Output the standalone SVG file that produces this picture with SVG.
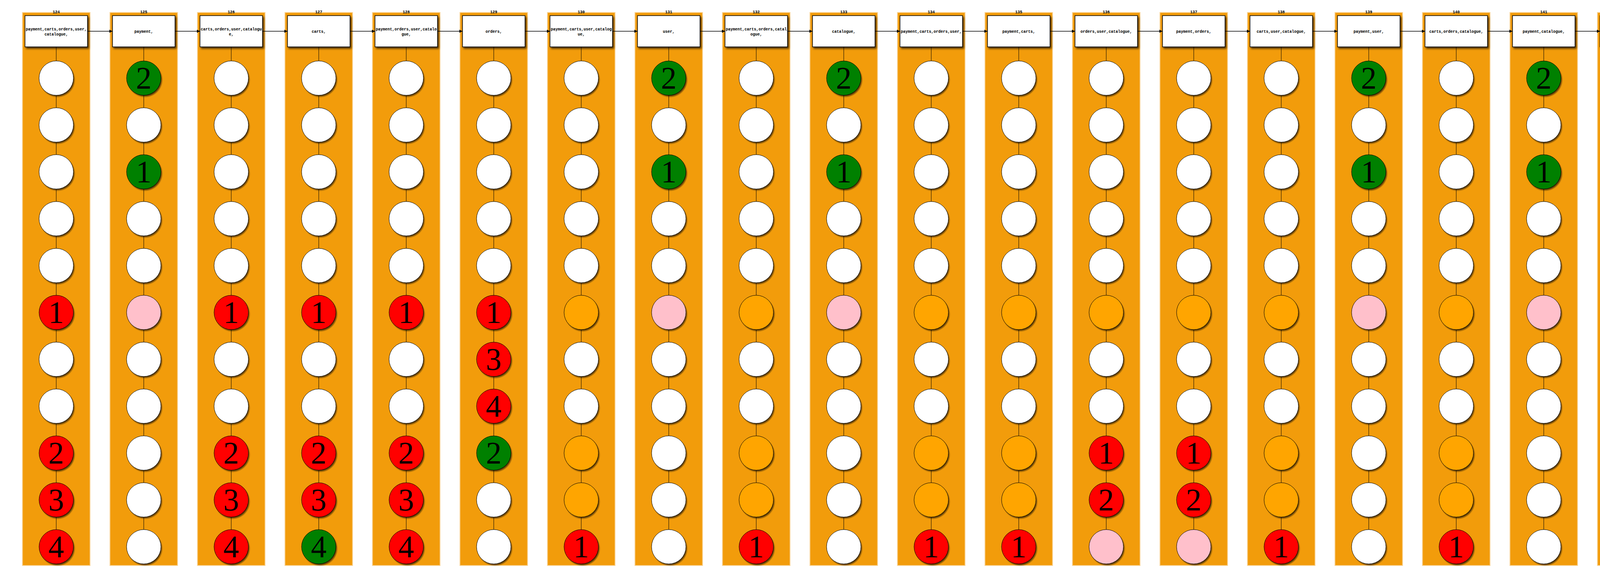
<svg xmlns="http://www.w3.org/2000/svg" width="7008" height="1480" viewBox="0 0 7008 1480">
<defs>
<filter id="shadow" x="-20%" y="-20%" width="150%" height="150%"><feDropShadow dx="3" dy="4" stdDeviation="2.5" flood-color="#000" flood-opacity="0.7"/></filter>
<radialGradient id="shg"><stop offset="0" stop-color="#000" stop-opacity="0.7"/><stop offset="0.88" stop-color="#000" stop-opacity="0.65"/><stop offset="1" stop-color="#000" stop-opacity="0"/></radialGradient>
<marker id="arr" viewBox="0 0 8 8" refX="8" refY="4" markerWidth="8" markerHeight="8" markerUnits="userSpaceOnUse" orient="auto"><path d="M0,0 L8,4 L0,8 z" fill="#000"/></marker>
</defs>
<style>
.bg{fill:#F29C0B;stroke:#F29C0B;stroke-opacity:0.45;stroke-width:4}
.box rect{fill:#fff;stroke:#000;stroke-width:1.5;filter:url(#shadow)}
.sh{fill:url(#shg);stroke:none}
.m{stroke:#000;stroke-width:1}
.w .m{fill:#fff}
.o .m{fill:#FFA500}
.p .m{fill:#FFC0CB}
.r .m{fill:#FF0000}
.g .m{fill:#008000}
.num{font-family:"Liberation Serif",serif;font-size:80px;text-anchor:middle;fill:#000}
.bt,.lbl{font-family:"Liberation Mono",monospace;font-size:10px;font-weight:bold;text-anchor:middle;fill:#000}
.vc{fill:none;stroke:#000;stroke-width:1}
.hc{stroke:#000;stroke-width:1.5;marker-end:url(#arr)}
</style>
<rect width="7008" height="1480" fill="#fff"/>
<g id="backgrounds">
<rect class="bg" x="58.5" y="33" width="171" height="1414"/>
<rect class="bg" x="282.5" y="33" width="171" height="1414"/>
<rect class="bg" x="506.5" y="33" width="171" height="1414"/>
<rect class="bg" x="730.5" y="33" width="171" height="1414"/>
<rect class="bg" x="954.5" y="33" width="171" height="1414"/>
<rect class="bg" x="1178.5" y="33" width="171" height="1414"/>
<rect class="bg" x="1402.5" y="33" width="171" height="1414"/>
<rect class="bg" x="1626.5" y="33" width="171" height="1414"/>
<rect class="bg" x="1850.5" y="33" width="171" height="1414"/>
<rect class="bg" x="2074.5" y="33" width="171" height="1414"/>
<rect class="bg" x="2298.5" y="33" width="171" height="1414"/>
<rect class="bg" x="2522.5" y="33" width="171" height="1414"/>
<rect class="bg" x="2746.5" y="33" width="171" height="1414"/>
<rect class="bg" x="2970.5" y="33" width="171" height="1414"/>
<rect class="bg" x="3194.5" y="33" width="171" height="1414"/>
<rect class="bg" x="3418.5" y="33" width="171" height="1414"/>
<rect class="bg" x="3642.5" y="33" width="171" height="1414"/>
<rect class="bg" x="3866.5" y="33" width="171" height="1414"/>
<rect class="bg" x="4090.5" y="33" width="171" height="1414"/>
<rect class="bg" x="4314.5" y="33" width="171" height="1414"/>
<rect class="bg" x="4538.5" y="33" width="171" height="1414"/>
<rect class="bg" x="4762.5" y="33" width="171" height="1414"/>
<rect class="bg" x="4986.5" y="33" width="171" height="1414"/>
<rect class="bg" x="5210.5" y="33" width="171" height="1414"/>
<rect class="bg" x="5434.5" y="33" width="171" height="1414"/>
<rect class="bg" x="5658.5" y="33" width="171" height="1414"/>
<rect class="bg" x="5882.5" y="33" width="171" height="1414"/>
<rect class="bg" x="6106.5" y="33" width="171" height="1414"/>
<rect class="bg" x="6330.5" y="33" width="171" height="1414"/>
<rect class="bg" x="6554.5" y="33" width="171" height="1414"/>
<rect class="bg" x="6778.5" y="33" width="171" height="1414"/>
</g>
<g id="connectors">
<path class="vc" d="M144 120v36m0 88v32m0 88v32m0 88v32m0 88v32m0 88v32m0 88v32m0 88v32m0 88v32m0 88v32m0 88v32"/>
<path class="vc" d="M368 120v36m0 88v32m0 88v32m0 88v32m0 88v32m0 88v32m0 88v32m0 88v32m0 88v32m0 88v32m0 88v32"/>
<path class="vc" d="M592 120v36m0 88v32m0 88v32m0 88v32m0 88v32m0 88v32m0 88v32m0 88v32m0 88v32m0 88v32m0 88v32"/>
<path class="vc" d="M816 120v36m0 88v32m0 88v32m0 88v32m0 88v32m0 88v32m0 88v32m0 88v32m0 88v32m0 88v32m0 88v32"/>
<path class="vc" d="M1040 120v36m0 88v32m0 88v32m0 88v32m0 88v32m0 88v32m0 88v32m0 88v32m0 88v32m0 88v32m0 88v32"/>
<path class="vc" d="M1264 120v36m0 88v32m0 88v32m0 88v32m0 88v32m0 88v32m0 88v32m0 88v32m0 88v32m0 88v32m0 88v32"/>
<path class="vc" d="M1488 120v36m0 88v32m0 88v32m0 88v32m0 88v32m0 88v32m0 88v32m0 88v32m0 88v32m0 88v32m0 88v32"/>
<path class="vc" d="M1712 120v36m0 88v32m0 88v32m0 88v32m0 88v32m0 88v32m0 88v32m0 88v32m0 88v32m0 88v32m0 88v32"/>
<path class="vc" d="M1936 120v36m0 88v32m0 88v32m0 88v32m0 88v32m0 88v32m0 88v32m0 88v32m0 88v32m0 88v32m0 88v32"/>
<path class="vc" d="M2160 120v36m0 88v32m0 88v32m0 88v32m0 88v32m0 88v32m0 88v32m0 88v32m0 88v32m0 88v32m0 88v32"/>
<path class="vc" d="M2384 120v36m0 88v32m0 88v32m0 88v32m0 88v32m0 88v32m0 88v32m0 88v32m0 88v32m0 88v32m0 88v32"/>
<path class="vc" d="M2608 120v36m0 88v32m0 88v32m0 88v32m0 88v32m0 88v32m0 88v32m0 88v32m0 88v32m0 88v32m0 88v32"/>
<path class="vc" d="M2832 120v36m0 88v32m0 88v32m0 88v32m0 88v32m0 88v32m0 88v32m0 88v32m0 88v32m0 88v32m0 88v32"/>
<path class="vc" d="M3056 120v36m0 88v32m0 88v32m0 88v32m0 88v32m0 88v32m0 88v32m0 88v32m0 88v32m0 88v32m0 88v32"/>
<path class="vc" d="M3280 120v36m0 88v32m0 88v32m0 88v32m0 88v32m0 88v32m0 88v32m0 88v32m0 88v32m0 88v32m0 88v32"/>
<path class="vc" d="M3504 120v36m0 88v32m0 88v32m0 88v32m0 88v32m0 88v32m0 88v32m0 88v32m0 88v32m0 88v32m0 88v32"/>
<path class="vc" d="M3728 120v36m0 88v32m0 88v32m0 88v32m0 88v32m0 88v32m0 88v32m0 88v32m0 88v32m0 88v32m0 88v32"/>
<path class="vc" d="M3952 120v36m0 88v32m0 88v32m0 88v32m0 88v32m0 88v32m0 88v32m0 88v32m0 88v32m0 88v32m0 88v32"/>
<path class="vc" d="M4176 120v36m0 88v32m0 88v32m0 88v32m0 88v32m0 88v32m0 88v32m0 88v32m0 88v32m0 88v32m0 88v32"/>
<path class="vc" d="M4400 120v36m0 88v32m0 88v32m0 88v32m0 88v32m0 88v32m0 88v32m0 88v32m0 88v32m0 88v32m0 88v32"/>
<path class="vc" d="M4624 120v36m0 88v32m0 88v32m0 88v32m0 88v32m0 88v32m0 88v32m0 88v32m0 88v32m0 88v32m0 88v32"/>
<path class="vc" d="M4848 120v36m0 88v32m0 88v32m0 88v32m0 88v32m0 88v32m0 88v32m0 88v32m0 88v32m0 88v32m0 88v32"/>
<path class="vc" d="M5072 120v36m0 88v32m0 88v32m0 88v32m0 88v32m0 88v32m0 88v32m0 88v32m0 88v32m0 88v32m0 88v32"/>
<path class="vc" d="M5296 120v36m0 88v32m0 88v32m0 88v32m0 88v32m0 88v32m0 88v32m0 88v32m0 88v32m0 88v32m0 88v32"/>
<path class="vc" d="M5520 120v36m0 88v32m0 88v32m0 88v32m0 88v32m0 88v32m0 88v32m0 88v32m0 88v32m0 88v32m0 88v32"/>
<path class="vc" d="M5744 120v36m0 88v32m0 88v32m0 88v32m0 88v32m0 88v32m0 88v32m0 88v32m0 88v32m0 88v32m0 88v32"/>
<path class="vc" d="M5968 120v36m0 88v32m0 88v32m0 88v32m0 88v32m0 88v32m0 88v32m0 88v32m0 88v32m0 88v32m0 88v32"/>
<path class="vc" d="M6192 120v36m0 88v32m0 88v32m0 88v32m0 88v32m0 88v32m0 88v32m0 88v32m0 88v32m0 88v32m0 88v32"/>
<path class="vc" d="M6416 120v36m0 88v32m0 88v32m0 88v32m0 88v32m0 88v32m0 88v32m0 88v32m0 88v32m0 88v32m0 88v32"/>
<path class="vc" d="M6640 120v36m0 88v32m0 88v32m0 88v32m0 88v32m0 88v32m0 88v32m0 88v32m0 88v32m0 88v32m0 88v32"/>
<path class="vc" d="M6864 120v36m0 88v32m0 88v32m0 88v32m0 88v32m0 88v32m0 88v32m0 88v32m0 88v32m0 88v32m0 88v32"/>
<line class="hc" x1="224" y1="80" x2="288" y2="80"/>
<line class="hc" x1="448" y1="80" x2="512" y2="80"/>
<line class="hc" x1="672" y1="80" x2="736" y2="80"/>
<line class="hc" x1="896" y1="80" x2="960" y2="80"/>
<line class="hc" x1="1120" y1="80" x2="1184" y2="80"/>
<line class="hc" x1="1344" y1="80" x2="1408" y2="80"/>
<line class="hc" x1="1568" y1="80" x2="1632" y2="80"/>
<line class="hc" x1="1792" y1="80" x2="1856" y2="80"/>
<line class="hc" x1="2016" y1="80" x2="2080" y2="80"/>
<line class="hc" x1="2240" y1="80" x2="2304" y2="80"/>
<line class="hc" x1="2464" y1="80" x2="2528" y2="80"/>
<line class="hc" x1="2688" y1="80" x2="2752" y2="80"/>
<line class="hc" x1="2912" y1="80" x2="2976" y2="80"/>
<line class="hc" x1="3136" y1="80" x2="3200" y2="80"/>
<line class="hc" x1="3360" y1="80" x2="3424" y2="80"/>
<line class="hc" x1="3584" y1="80" x2="3648" y2="80"/>
<line class="hc" x1="3808" y1="80" x2="3872" y2="80"/>
<line class="hc" x1="4032" y1="80" x2="4096" y2="80"/>
<line class="hc" x1="4256" y1="80" x2="4320" y2="80"/>
<line class="hc" x1="4480" y1="80" x2="4544" y2="80"/>
<line class="hc" x1="4704" y1="80" x2="4768" y2="80"/>
<line class="hc" x1="4928" y1="80" x2="4992" y2="80"/>
<line class="hc" x1="5152" y1="80" x2="5216" y2="80"/>
<line class="hc" x1="5376" y1="80" x2="5440" y2="80"/>
<line class="hc" x1="5600" y1="80" x2="5664" y2="80"/>
<line class="hc" x1="5824" y1="80" x2="5888" y2="80"/>
<line class="hc" x1="6048" y1="80" x2="6112" y2="80"/>
<line class="hc" x1="6272" y1="80" x2="6336" y2="80"/>
<line class="hc" x1="6496" y1="80" x2="6560" y2="80"/>
<line class="hc" x1="6720" y1="80" x2="6784" y2="80"/>
</g>

<g id="col124" transform="translate(144,0)">
<text class="lbl" y="34">124</text>
<g id="n124" class="box"><rect x="-80" y="40" width="160" height="80"/><text class="bt"><tspan x="0" y="78">payment,carts,orders,user,</tspan><tspan x="0" y="91">catalogue,</tspan></text></g>
<g id="n124_0" class="w"><circle class="sh" cx="3" cy="204" r="46"/><circle class="m" cy="200" r="44"/></g>
<g id="n124_1" class="w"><circle class="sh" cx="3" cy="324" r="46"/><circle class="m" cy="320" r="44"/></g>
<g id="n124_2" class="w"><circle class="sh" cx="3" cy="444" r="46"/><circle class="m" cy="440" r="44"/></g>
<g id="n124_3" class="w"><circle class="sh" cx="3" cy="564" r="46"/><circle class="m" cy="560" r="44"/></g>
<g id="n124_4" class="w"><circle class="sh" cx="3" cy="684" r="46"/><circle class="m" cy="680" r="44"/></g>
<g id="n124_5" class="r"><circle class="sh" cx="3" cy="804" r="46"/><circle class="m" cy="800" r="44"/><text class="num" y="827">1</text></g>
<g id="n124_6" class="w"><circle class="sh" cx="3" cy="924" r="46"/><circle class="m" cy="920" r="44"/></g>
<g id="n124_7" class="w"><circle class="sh" cx="3" cy="1044" r="46"/><circle class="m" cy="1040" r="44"/></g>
<g id="n124_8" class="r"><circle class="sh" cx="3" cy="1164" r="46"/><circle class="m" cy="1160" r="44"/><text class="num" y="1187">2</text></g>
<g id="n124_9" class="r"><circle class="sh" cx="3" cy="1284" r="46"/><circle class="m" cy="1280" r="44"/><text class="num" y="1307">3</text></g>
<g id="n124_10" class="r"><circle class="sh" cx="3" cy="1404" r="46"/><circle class="m" cy="1400" r="44"/><text class="num" y="1427">4</text></g>
</g>

<g id="col125" transform="translate(368,0)">
<text class="lbl" y="34">125</text>
<g id="n125" class="box"><rect x="-80" y="40" width="160" height="80"/><text class="bt" x="0" y="84">payment,</text></g>
<g id="n125_0" class="g"><circle class="sh" cx="3" cy="204" r="46"/><circle class="m" cy="200" r="44"/><text class="num" y="227">2</text></g>
<g id="n125_1" class="w"><circle class="sh" cx="3" cy="324" r="46"/><circle class="m" cy="320" r="44"/></g>
<g id="n125_2" class="g"><circle class="sh" cx="3" cy="444" r="46"/><circle class="m" cy="440" r="44"/><text class="num" y="467">1</text></g>
<g id="n125_3" class="w"><circle class="sh" cx="3" cy="564" r="46"/><circle class="m" cy="560" r="44"/></g>
<g id="n125_4" class="w"><circle class="sh" cx="3" cy="684" r="46"/><circle class="m" cy="680" r="44"/></g>
<g id="n125_5" class="p"><circle class="sh" cx="3" cy="804" r="46"/><circle class="m" cy="800" r="44"/></g>
<g id="n125_6" class="w"><circle class="sh" cx="3" cy="924" r="46"/><circle class="m" cy="920" r="44"/></g>
<g id="n125_7" class="w"><circle class="sh" cx="3" cy="1044" r="46"/><circle class="m" cy="1040" r="44"/></g>
<g id="n125_8" class="w"><circle class="sh" cx="3" cy="1164" r="46"/><circle class="m" cy="1160" r="44"/></g>
<g id="n125_9" class="w"><circle class="sh" cx="3" cy="1284" r="46"/><circle class="m" cy="1280" r="44"/></g>
<g id="n125_10" class="w"><circle class="sh" cx="3" cy="1404" r="46"/><circle class="m" cy="1400" r="44"/></g>
</g>

<g id="col126" transform="translate(592,0)">
<text class="lbl" y="34">126</text>
<g id="n126" class="box"><rect x="-80" y="40" width="160" height="80"/><text class="bt"><tspan x="0" y="78">carts,orders,user,catalogu</tspan><tspan x="0" y="91">e,</tspan></text></g>
<g id="n126_0" class="w"><circle class="sh" cx="3" cy="204" r="46"/><circle class="m" cy="200" r="44"/></g>
<g id="n126_1" class="w"><circle class="sh" cx="3" cy="324" r="46"/><circle class="m" cy="320" r="44"/></g>
<g id="n126_2" class="w"><circle class="sh" cx="3" cy="444" r="46"/><circle class="m" cy="440" r="44"/></g>
<g id="n126_3" class="w"><circle class="sh" cx="3" cy="564" r="46"/><circle class="m" cy="560" r="44"/></g>
<g id="n126_4" class="w"><circle class="sh" cx="3" cy="684" r="46"/><circle class="m" cy="680" r="44"/></g>
<g id="n126_5" class="r"><circle class="sh" cx="3" cy="804" r="46"/><circle class="m" cy="800" r="44"/><text class="num" y="827">1</text></g>
<g id="n126_6" class="w"><circle class="sh" cx="3" cy="924" r="46"/><circle class="m" cy="920" r="44"/></g>
<g id="n126_7" class="w"><circle class="sh" cx="3" cy="1044" r="46"/><circle class="m" cy="1040" r="44"/></g>
<g id="n126_8" class="r"><circle class="sh" cx="3" cy="1164" r="46"/><circle class="m" cy="1160" r="44"/><text class="num" y="1187">2</text></g>
<g id="n126_9" class="r"><circle class="sh" cx="3" cy="1284" r="46"/><circle class="m" cy="1280" r="44"/><text class="num" y="1307">3</text></g>
<g id="n126_10" class="r"><circle class="sh" cx="3" cy="1404" r="46"/><circle class="m" cy="1400" r="44"/><text class="num" y="1427">4</text></g>
</g>

<g id="col127" transform="translate(816,0)">
<text class="lbl" y="34">127</text>
<g id="n127" class="box"><rect x="-80" y="40" width="160" height="80"/><text class="bt" x="0" y="84">carts,</text></g>
<g id="n127_0" class="w"><circle class="sh" cx="3" cy="204" r="46"/><circle class="m" cy="200" r="44"/></g>
<g id="n127_1" class="w"><circle class="sh" cx="3" cy="324" r="46"/><circle class="m" cy="320" r="44"/></g>
<g id="n127_2" class="w"><circle class="sh" cx="3" cy="444" r="46"/><circle class="m" cy="440" r="44"/></g>
<g id="n127_3" class="w"><circle class="sh" cx="3" cy="564" r="46"/><circle class="m" cy="560" r="44"/></g>
<g id="n127_4" class="w"><circle class="sh" cx="3" cy="684" r="46"/><circle class="m" cy="680" r="44"/></g>
<g id="n127_5" class="r"><circle class="sh" cx="3" cy="804" r="46"/><circle class="m" cy="800" r="44"/><text class="num" y="827">1</text></g>
<g id="n127_6" class="w"><circle class="sh" cx="3" cy="924" r="46"/><circle class="m" cy="920" r="44"/></g>
<g id="n127_7" class="w"><circle class="sh" cx="3" cy="1044" r="46"/><circle class="m" cy="1040" r="44"/></g>
<g id="n127_8" class="r"><circle class="sh" cx="3" cy="1164" r="46"/><circle class="m" cy="1160" r="44"/><text class="num" y="1187">2</text></g>
<g id="n127_9" class="r"><circle class="sh" cx="3" cy="1284" r="46"/><circle class="m" cy="1280" r="44"/><text class="num" y="1307">3</text></g>
<g id="n127_10" class="g"><circle class="sh" cx="3" cy="1404" r="46"/><circle class="m" cy="1400" r="44"/><text class="num" y="1427">4</text></g>
</g>

<g id="col128" transform="translate(1040,0)">
<text class="lbl" y="34">128</text>
<g id="n128" class="box"><rect x="-80" y="40" width="160" height="80"/><text class="bt"><tspan x="0" y="78">payment,orders,user,catalo</tspan><tspan x="0" y="91">gue,</tspan></text></g>
<g id="n128_0" class="w"><circle class="sh" cx="3" cy="204" r="46"/><circle class="m" cy="200" r="44"/></g>
<g id="n128_1" class="w"><circle class="sh" cx="3" cy="324" r="46"/><circle class="m" cy="320" r="44"/></g>
<g id="n128_2" class="w"><circle class="sh" cx="3" cy="444" r="46"/><circle class="m" cy="440" r="44"/></g>
<g id="n128_3" class="w"><circle class="sh" cx="3" cy="564" r="46"/><circle class="m" cy="560" r="44"/></g>
<g id="n128_4" class="w"><circle class="sh" cx="3" cy="684" r="46"/><circle class="m" cy="680" r="44"/></g>
<g id="n128_5" class="r"><circle class="sh" cx="3" cy="804" r="46"/><circle class="m" cy="800" r="44"/><text class="num" y="827">1</text></g>
<g id="n128_6" class="w"><circle class="sh" cx="3" cy="924" r="46"/><circle class="m" cy="920" r="44"/></g>
<g id="n128_7" class="w"><circle class="sh" cx="3" cy="1044" r="46"/><circle class="m" cy="1040" r="44"/></g>
<g id="n128_8" class="r"><circle class="sh" cx="3" cy="1164" r="46"/><circle class="m" cy="1160" r="44"/><text class="num" y="1187">2</text></g>
<g id="n128_9" class="r"><circle class="sh" cx="3" cy="1284" r="46"/><circle class="m" cy="1280" r="44"/><text class="num" y="1307">3</text></g>
<g id="n128_10" class="r"><circle class="sh" cx="3" cy="1404" r="46"/><circle class="m" cy="1400" r="44"/><text class="num" y="1427">4</text></g>
</g>

<g id="col129" transform="translate(1264,0)">
<text class="lbl" y="34">129</text>
<g id="n129" class="box"><rect x="-80" y="40" width="160" height="80"/><text class="bt" x="0" y="84">orders,</text></g>
<g id="n129_0" class="w"><circle class="sh" cx="3" cy="204" r="46"/><circle class="m" cy="200" r="44"/></g>
<g id="n129_1" class="w"><circle class="sh" cx="3" cy="324" r="46"/><circle class="m" cy="320" r="44"/></g>
<g id="n129_2" class="w"><circle class="sh" cx="3" cy="444" r="46"/><circle class="m" cy="440" r="44"/></g>
<g id="n129_3" class="w"><circle class="sh" cx="3" cy="564" r="46"/><circle class="m" cy="560" r="44"/></g>
<g id="n129_4" class="w"><circle class="sh" cx="3" cy="684" r="46"/><circle class="m" cy="680" r="44"/></g>
<g id="n129_5" class="r"><circle class="sh" cx="3" cy="804" r="46"/><circle class="m" cy="800" r="44"/><text class="num" y="827">1</text></g>
<g id="n129_6" class="r"><circle class="sh" cx="3" cy="924" r="46"/><circle class="m" cy="920" r="44"/><text class="num" y="947">3</text></g>
<g id="n129_7" class="r"><circle class="sh" cx="3" cy="1044" r="46"/><circle class="m" cy="1040" r="44"/><text class="num" y="1067">4</text></g>
<g id="n129_8" class="g"><circle class="sh" cx="3" cy="1164" r="46"/><circle class="m" cy="1160" r="44"/><text class="num" y="1187">2</text></g>
<g id="n129_9" class="w"><circle class="sh" cx="3" cy="1284" r="46"/><circle class="m" cy="1280" r="44"/></g>
<g id="n129_10" class="w"><circle class="sh" cx="3" cy="1404" r="46"/><circle class="m" cy="1400" r="44"/></g>
</g>

<g id="col130" transform="translate(1488,0)">
<text class="lbl" y="34">130</text>
<g id="n130" class="box"><rect x="-80" y="40" width="160" height="80"/><text class="bt"><tspan x="0" y="78">payment,carts,user,catalog</tspan><tspan x="0" y="91">ue,</tspan></text></g>
<g id="n130_0" class="w"><circle class="sh" cx="3" cy="204" r="46"/><circle class="m" cy="200" r="44"/></g>
<g id="n130_1" class="w"><circle class="sh" cx="3" cy="324" r="46"/><circle class="m" cy="320" r="44"/></g>
<g id="n130_2" class="w"><circle class="sh" cx="3" cy="444" r="46"/><circle class="m" cy="440" r="44"/></g>
<g id="n130_3" class="w"><circle class="sh" cx="3" cy="564" r="46"/><circle class="m" cy="560" r="44"/></g>
<g id="n130_4" class="w"><circle class="sh" cx="3" cy="684" r="46"/><circle class="m" cy="680" r="44"/></g>
<g id="n130_5" class="o"><circle class="sh" cx="3" cy="804" r="46"/><circle class="m" cy="800" r="44"/></g>
<g id="n130_6" class="w"><circle class="sh" cx="3" cy="924" r="46"/><circle class="m" cy="920" r="44"/></g>
<g id="n130_7" class="w"><circle class="sh" cx="3" cy="1044" r="46"/><circle class="m" cy="1040" r="44"/></g>
<g id="n130_8" class="o"><circle class="sh" cx="3" cy="1164" r="46"/><circle class="m" cy="1160" r="44"/></g>
<g id="n130_9" class="o"><circle class="sh" cx="3" cy="1284" r="46"/><circle class="m" cy="1280" r="44"/></g>
<g id="n130_10" class="r"><circle class="sh" cx="3" cy="1404" r="46"/><circle class="m" cy="1400" r="44"/><text class="num" y="1427">1</text></g>
</g>

<g id="col131" transform="translate(1712,0)">
<text class="lbl" y="34">131</text>
<g id="n131" class="box"><rect x="-80" y="40" width="160" height="80"/><text class="bt" x="0" y="84">user,</text></g>
<g id="n131_0" class="g"><circle class="sh" cx="3" cy="204" r="46"/><circle class="m" cy="200" r="44"/><text class="num" y="227">2</text></g>
<g id="n131_1" class="w"><circle class="sh" cx="3" cy="324" r="46"/><circle class="m" cy="320" r="44"/></g>
<g id="n131_2" class="g"><circle class="sh" cx="3" cy="444" r="46"/><circle class="m" cy="440" r="44"/><text class="num" y="467">1</text></g>
<g id="n131_3" class="w"><circle class="sh" cx="3" cy="564" r="46"/><circle class="m" cy="560" r="44"/></g>
<g id="n131_4" class="w"><circle class="sh" cx="3" cy="684" r="46"/><circle class="m" cy="680" r="44"/></g>
<g id="n131_5" class="p"><circle class="sh" cx="3" cy="804" r="46"/><circle class="m" cy="800" r="44"/></g>
<g id="n131_6" class="w"><circle class="sh" cx="3" cy="924" r="46"/><circle class="m" cy="920" r="44"/></g>
<g id="n131_7" class="w"><circle class="sh" cx="3" cy="1044" r="46"/><circle class="m" cy="1040" r="44"/></g>
<g id="n131_8" class="w"><circle class="sh" cx="3" cy="1164" r="46"/><circle class="m" cy="1160" r="44"/></g>
<g id="n131_9" class="w"><circle class="sh" cx="3" cy="1284" r="46"/><circle class="m" cy="1280" r="44"/></g>
<g id="n131_10" class="w"><circle class="sh" cx="3" cy="1404" r="46"/><circle class="m" cy="1400" r="44"/></g>
</g>

<g id="col132" transform="translate(1936,0)">
<text class="lbl" y="34">132</text>
<g id="n132" class="box"><rect x="-80" y="40" width="160" height="80"/><text class="bt"><tspan x="0" y="78">payment,carts,orders,catal</tspan><tspan x="0" y="91">ogue,</tspan></text></g>
<g id="n132_0" class="w"><circle class="sh" cx="3" cy="204" r="46"/><circle class="m" cy="200" r="44"/></g>
<g id="n132_1" class="w"><circle class="sh" cx="3" cy="324" r="46"/><circle class="m" cy="320" r="44"/></g>
<g id="n132_2" class="w"><circle class="sh" cx="3" cy="444" r="46"/><circle class="m" cy="440" r="44"/></g>
<g id="n132_3" class="w"><circle class="sh" cx="3" cy="564" r="46"/><circle class="m" cy="560" r="44"/></g>
<g id="n132_4" class="w"><circle class="sh" cx="3" cy="684" r="46"/><circle class="m" cy="680" r="44"/></g>
<g id="n132_5" class="o"><circle class="sh" cx="3" cy="804" r="46"/><circle class="m" cy="800" r="44"/></g>
<g id="n132_6" class="w"><circle class="sh" cx="3" cy="924" r="46"/><circle class="m" cy="920" r="44"/></g>
<g id="n132_7" class="w"><circle class="sh" cx="3" cy="1044" r="46"/><circle class="m" cy="1040" r="44"/></g>
<g id="n132_8" class="o"><circle class="sh" cx="3" cy="1164" r="46"/><circle class="m" cy="1160" r="44"/></g>
<g id="n132_9" class="o"><circle class="sh" cx="3" cy="1284" r="46"/><circle class="m" cy="1280" r="44"/></g>
<g id="n132_10" class="r"><circle class="sh" cx="3" cy="1404" r="46"/><circle class="m" cy="1400" r="44"/><text class="num" y="1427">1</text></g>
</g>

<g id="col133" transform="translate(2160,0)">
<text class="lbl" y="34">133</text>
<g id="n133" class="box"><rect x="-80" y="40" width="160" height="80"/><text class="bt" x="0" y="84">catalogue,</text></g>
<g id="n133_0" class="g"><circle class="sh" cx="3" cy="204" r="46"/><circle class="m" cy="200" r="44"/><text class="num" y="227">2</text></g>
<g id="n133_1" class="w"><circle class="sh" cx="3" cy="324" r="46"/><circle class="m" cy="320" r="44"/></g>
<g id="n133_2" class="g"><circle class="sh" cx="3" cy="444" r="46"/><circle class="m" cy="440" r="44"/><text class="num" y="467">1</text></g>
<g id="n133_3" class="w"><circle class="sh" cx="3" cy="564" r="46"/><circle class="m" cy="560" r="44"/></g>
<g id="n133_4" class="w"><circle class="sh" cx="3" cy="684" r="46"/><circle class="m" cy="680" r="44"/></g>
<g id="n133_5" class="p"><circle class="sh" cx="3" cy="804" r="46"/><circle class="m" cy="800" r="44"/></g>
<g id="n133_6" class="w"><circle class="sh" cx="3" cy="924" r="46"/><circle class="m" cy="920" r="44"/></g>
<g id="n133_7" class="w"><circle class="sh" cx="3" cy="1044" r="46"/><circle class="m" cy="1040" r="44"/></g>
<g id="n133_8" class="w"><circle class="sh" cx="3" cy="1164" r="46"/><circle class="m" cy="1160" r="44"/></g>
<g id="n133_9" class="w"><circle class="sh" cx="3" cy="1284" r="46"/><circle class="m" cy="1280" r="44"/></g>
<g id="n133_10" class="w"><circle class="sh" cx="3" cy="1404" r="46"/><circle class="m" cy="1400" r="44"/></g>
</g>

<g id="col134" transform="translate(2384,0)">
<text class="lbl" y="34">134</text>
<g id="n134" class="box"><rect x="-80" y="40" width="160" height="80"/><text class="bt" x="0" y="84">payment,carts,orders,user,</text></g>
<g id="n134_0" class="w"><circle class="sh" cx="3" cy="204" r="46"/><circle class="m" cy="200" r="44"/></g>
<g id="n134_1" class="w"><circle class="sh" cx="3" cy="324" r="46"/><circle class="m" cy="320" r="44"/></g>
<g id="n134_2" class="w"><circle class="sh" cx="3" cy="444" r="46"/><circle class="m" cy="440" r="44"/></g>
<g id="n134_3" class="w"><circle class="sh" cx="3" cy="564" r="46"/><circle class="m" cy="560" r="44"/></g>
<g id="n134_4" class="w"><circle class="sh" cx="3" cy="684" r="46"/><circle class="m" cy="680" r="44"/></g>
<g id="n134_5" class="o"><circle class="sh" cx="3" cy="804" r="46"/><circle class="m" cy="800" r="44"/></g>
<g id="n134_6" class="w"><circle class="sh" cx="3" cy="924" r="46"/><circle class="m" cy="920" r="44"/></g>
<g id="n134_7" class="w"><circle class="sh" cx="3" cy="1044" r="46"/><circle class="m" cy="1040" r="44"/></g>
<g id="n134_8" class="o"><circle class="sh" cx="3" cy="1164" r="46"/><circle class="m" cy="1160" r="44"/></g>
<g id="n134_9" class="o"><circle class="sh" cx="3" cy="1284" r="46"/><circle class="m" cy="1280" r="44"/></g>
<g id="n134_10" class="r"><circle class="sh" cx="3" cy="1404" r="46"/><circle class="m" cy="1400" r="44"/><text class="num" y="1427">1</text></g>
</g>

<g id="col135" transform="translate(2608,0)">
<text class="lbl" y="34">135</text>
<g id="n135" class="box"><rect x="-80" y="40" width="160" height="80"/><text class="bt" x="0" y="84">payment,carts,</text></g>
<g id="n135_0" class="w"><circle class="sh" cx="3" cy="204" r="46"/><circle class="m" cy="200" r="44"/></g>
<g id="n135_1" class="w"><circle class="sh" cx="3" cy="324" r="46"/><circle class="m" cy="320" r="44"/></g>
<g id="n135_2" class="w"><circle class="sh" cx="3" cy="444" r="46"/><circle class="m" cy="440" r="44"/></g>
<g id="n135_3" class="w"><circle class="sh" cx="3" cy="564" r="46"/><circle class="m" cy="560" r="44"/></g>
<g id="n135_4" class="w"><circle class="sh" cx="3" cy="684" r="46"/><circle class="m" cy="680" r="44"/></g>
<g id="n135_5" class="o"><circle class="sh" cx="3" cy="804" r="46"/><circle class="m" cy="800" r="44"/></g>
<g id="n135_6" class="w"><circle class="sh" cx="3" cy="924" r="46"/><circle class="m" cy="920" r="44"/></g>
<g id="n135_7" class="w"><circle class="sh" cx="3" cy="1044" r="46"/><circle class="m" cy="1040" r="44"/></g>
<g id="n135_8" class="o"><circle class="sh" cx="3" cy="1164" r="46"/><circle class="m" cy="1160" r="44"/></g>
<g id="n135_9" class="o"><circle class="sh" cx="3" cy="1284" r="46"/><circle class="m" cy="1280" r="44"/></g>
<g id="n135_10" class="r"><circle class="sh" cx="3" cy="1404" r="46"/><circle class="m" cy="1400" r="44"/><text class="num" y="1427">1</text></g>
</g>

<g id="col136" transform="translate(2832,0)">
<text class="lbl" y="34">136</text>
<g id="n136" class="box"><rect x="-80" y="40" width="160" height="80"/><text class="bt" x="0" y="84">orders,user,catalogue,</text></g>
<g id="n136_0" class="w"><circle class="sh" cx="3" cy="204" r="46"/><circle class="m" cy="200" r="44"/></g>
<g id="n136_1" class="w"><circle class="sh" cx="3" cy="324" r="46"/><circle class="m" cy="320" r="44"/></g>
<g id="n136_2" class="w"><circle class="sh" cx="3" cy="444" r="46"/><circle class="m" cy="440" r="44"/></g>
<g id="n136_3" class="w"><circle class="sh" cx="3" cy="564" r="46"/><circle class="m" cy="560" r="44"/></g>
<g id="n136_4" class="w"><circle class="sh" cx="3" cy="684" r="46"/><circle class="m" cy="680" r="44"/></g>
<g id="n136_5" class="o"><circle class="sh" cx="3" cy="804" r="46"/><circle class="m" cy="800" r="44"/></g>
<g id="n136_6" class="w"><circle class="sh" cx="3" cy="924" r="46"/><circle class="m" cy="920" r="44"/></g>
<g id="n136_7" class="w"><circle class="sh" cx="3" cy="1044" r="46"/><circle class="m" cy="1040" r="44"/></g>
<g id="n136_8" class="r"><circle class="sh" cx="3" cy="1164" r="46"/><circle class="m" cy="1160" r="44"/><text class="num" y="1187">1</text></g>
<g id="n136_9" class="r"><circle class="sh" cx="3" cy="1284" r="46"/><circle class="m" cy="1280" r="44"/><text class="num" y="1307">2</text></g>
<g id="n136_10" class="p"><circle class="sh" cx="3" cy="1404" r="46"/><circle class="m" cy="1400" r="44"/></g>
</g>

<g id="col137" transform="translate(3056,0)">
<text class="lbl" y="34">137</text>
<g id="n137" class="box"><rect x="-80" y="40" width="160" height="80"/><text class="bt" x="0" y="84">payment,orders,</text></g>
<g id="n137_0" class="w"><circle class="sh" cx="3" cy="204" r="46"/><circle class="m" cy="200" r="44"/></g>
<g id="n137_1" class="w"><circle class="sh" cx="3" cy="324" r="46"/><circle class="m" cy="320" r="44"/></g>
<g id="n137_2" class="w"><circle class="sh" cx="3" cy="444" r="46"/><circle class="m" cy="440" r="44"/></g>
<g id="n137_3" class="w"><circle class="sh" cx="3" cy="564" r="46"/><circle class="m" cy="560" r="44"/></g>
<g id="n137_4" class="w"><circle class="sh" cx="3" cy="684" r="46"/><circle class="m" cy="680" r="44"/></g>
<g id="n137_5" class="o"><circle class="sh" cx="3" cy="804" r="46"/><circle class="m" cy="800" r="44"/></g>
<g id="n137_6" class="w"><circle class="sh" cx="3" cy="924" r="46"/><circle class="m" cy="920" r="44"/></g>
<g id="n137_7" class="w"><circle class="sh" cx="3" cy="1044" r="46"/><circle class="m" cy="1040" r="44"/></g>
<g id="n137_8" class="r"><circle class="sh" cx="3" cy="1164" r="46"/><circle class="m" cy="1160" r="44"/><text class="num" y="1187">1</text></g>
<g id="n137_9" class="r"><circle class="sh" cx="3" cy="1284" r="46"/><circle class="m" cy="1280" r="44"/><text class="num" y="1307">2</text></g>
<g id="n137_10" class="p"><circle class="sh" cx="3" cy="1404" r="46"/><circle class="m" cy="1400" r="44"/></g>
</g>

<g id="col138" transform="translate(3280,0)">
<text class="lbl" y="34">138</text>
<g id="n138" class="box"><rect x="-80" y="40" width="160" height="80"/><text class="bt" x="0" y="84">carts,user,catalogue,</text></g>
<g id="n138_0" class="w"><circle class="sh" cx="3" cy="204" r="46"/><circle class="m" cy="200" r="44"/></g>
<g id="n138_1" class="w"><circle class="sh" cx="3" cy="324" r="46"/><circle class="m" cy="320" r="44"/></g>
<g id="n138_2" class="w"><circle class="sh" cx="3" cy="444" r="46"/><circle class="m" cy="440" r="44"/></g>
<g id="n138_3" class="w"><circle class="sh" cx="3" cy="564" r="46"/><circle class="m" cy="560" r="44"/></g>
<g id="n138_4" class="w"><circle class="sh" cx="3" cy="684" r="46"/><circle class="m" cy="680" r="44"/></g>
<g id="n138_5" class="o"><circle class="sh" cx="3" cy="804" r="46"/><circle class="m" cy="800" r="44"/></g>
<g id="n138_6" class="w"><circle class="sh" cx="3" cy="924" r="46"/><circle class="m" cy="920" r="44"/></g>
<g id="n138_7" class="w"><circle class="sh" cx="3" cy="1044" r="46"/><circle class="m" cy="1040" r="44"/></g>
<g id="n138_8" class="o"><circle class="sh" cx="3" cy="1164" r="46"/><circle class="m" cy="1160" r="44"/></g>
<g id="n138_9" class="o"><circle class="sh" cx="3" cy="1284" r="46"/><circle class="m" cy="1280" r="44"/></g>
<g id="n138_10" class="r"><circle class="sh" cx="3" cy="1404" r="46"/><circle class="m" cy="1400" r="44"/><text class="num" y="1427">1</text></g>
</g>

<g id="col139" transform="translate(3504,0)">
<text class="lbl" y="34">139</text>
<g id="n139" class="box"><rect x="-80" y="40" width="160" height="80"/><text class="bt" x="0" y="84">payment,user,</text></g>
<g id="n139_0" class="g"><circle class="sh" cx="3" cy="204" r="46"/><circle class="m" cy="200" r="44"/><text class="num" y="227">2</text></g>
<g id="n139_1" class="w"><circle class="sh" cx="3" cy="324" r="46"/><circle class="m" cy="320" r="44"/></g>
<g id="n139_2" class="g"><circle class="sh" cx="3" cy="444" r="46"/><circle class="m" cy="440" r="44"/><text class="num" y="467">1</text></g>
<g id="n139_3" class="w"><circle class="sh" cx="3" cy="564" r="46"/><circle class="m" cy="560" r="44"/></g>
<g id="n139_4" class="w"><circle class="sh" cx="3" cy="684" r="46"/><circle class="m" cy="680" r="44"/></g>
<g id="n139_5" class="p"><circle class="sh" cx="3" cy="804" r="46"/><circle class="m" cy="800" r="44"/></g>
<g id="n139_6" class="w"><circle class="sh" cx="3" cy="924" r="46"/><circle class="m" cy="920" r="44"/></g>
<g id="n139_7" class="w"><circle class="sh" cx="3" cy="1044" r="46"/><circle class="m" cy="1040" r="44"/></g>
<g id="n139_8" class="w"><circle class="sh" cx="3" cy="1164" r="46"/><circle class="m" cy="1160" r="44"/></g>
<g id="n139_9" class="w"><circle class="sh" cx="3" cy="1284" r="46"/><circle class="m" cy="1280" r="44"/></g>
<g id="n139_10" class="w"><circle class="sh" cx="3" cy="1404" r="46"/><circle class="m" cy="1400" r="44"/></g>
</g>

<g id="col140" transform="translate(3728,0)">
<text class="lbl" y="34">140</text>
<g id="n140" class="box"><rect x="-80" y="40" width="160" height="80"/><text class="bt" x="0" y="84">carts,orders,catalogue,</text></g>
<g id="n140_0" class="w"><circle class="sh" cx="3" cy="204" r="46"/><circle class="m" cy="200" r="44"/></g>
<g id="n140_1" class="w"><circle class="sh" cx="3" cy="324" r="46"/><circle class="m" cy="320" r="44"/></g>
<g id="n140_2" class="w"><circle class="sh" cx="3" cy="444" r="46"/><circle class="m" cy="440" r="44"/></g>
<g id="n140_3" class="w"><circle class="sh" cx="3" cy="564" r="46"/><circle class="m" cy="560" r="44"/></g>
<g id="n140_4" class="w"><circle class="sh" cx="3" cy="684" r="46"/><circle class="m" cy="680" r="44"/></g>
<g id="n140_5" class="o"><circle class="sh" cx="3" cy="804" r="46"/><circle class="m" cy="800" r="44"/></g>
<g id="n140_6" class="w"><circle class="sh" cx="3" cy="924" r="46"/><circle class="m" cy="920" r="44"/></g>
<g id="n140_7" class="w"><circle class="sh" cx="3" cy="1044" r="46"/><circle class="m" cy="1040" r="44"/></g>
<g id="n140_8" class="o"><circle class="sh" cx="3" cy="1164" r="46"/><circle class="m" cy="1160" r="44"/></g>
<g id="n140_9" class="o"><circle class="sh" cx="3" cy="1284" r="46"/><circle class="m" cy="1280" r="44"/></g>
<g id="n140_10" class="r"><circle class="sh" cx="3" cy="1404" r="46"/><circle class="m" cy="1400" r="44"/><text class="num" y="1427">1</text></g>
</g>

<g id="col141" transform="translate(3952,0)">
<text class="lbl" y="34">141</text>
<g id="n141" class="box"><rect x="-80" y="40" width="160" height="80"/><text class="bt" x="0" y="84">payment,catalogue,</text></g>
<g id="n141_0" class="g"><circle class="sh" cx="3" cy="204" r="46"/><circle class="m" cy="200" r="44"/><text class="num" y="227">2</text></g>
<g id="n141_1" class="w"><circle class="sh" cx="3" cy="324" r="46"/><circle class="m" cy="320" r="44"/></g>
<g id="n141_2" class="g"><circle class="sh" cx="3" cy="444" r="46"/><circle class="m" cy="440" r="44"/><text class="num" y="467">1</text></g>
<g id="n141_3" class="w"><circle class="sh" cx="3" cy="564" r="46"/><circle class="m" cy="560" r="44"/></g>
<g id="n141_4" class="w"><circle class="sh" cx="3" cy="684" r="46"/><circle class="m" cy="680" r="44"/></g>
<g id="n141_5" class="p"><circle class="sh" cx="3" cy="804" r="46"/><circle class="m" cy="800" r="44"/></g>
<g id="n141_6" class="w"><circle class="sh" cx="3" cy="924" r="46"/><circle class="m" cy="920" r="44"/></g>
<g id="n141_7" class="w"><circle class="sh" cx="3" cy="1044" r="46"/><circle class="m" cy="1040" r="44"/></g>
<g id="n141_8" class="w"><circle class="sh" cx="3" cy="1164" r="46"/><circle class="m" cy="1160" r="44"/></g>
<g id="n141_9" class="w"><circle class="sh" cx="3" cy="1284" r="46"/><circle class="m" cy="1280" r="44"/></g>
<g id="n141_10" class="w"><circle class="sh" cx="3" cy="1404" r="46"/><circle class="m" cy="1400" r="44"/></g>
</g>

<g id="col142" transform="translate(4176,0)">
<text class="lbl" y="34">142</text>
<g id="n142" class="box"><rect x="-80" y="40" width="160" height="80"/><text class="bt" x="0" y="84">carts,orders,user,</text></g>
<g id="n142_0" class="w"><circle class="sh" cx="3" cy="204" r="46"/><circle class="m" cy="200" r="44"/></g>
<g id="n142_1" class="w"><circle class="sh" cx="3" cy="324" r="46"/><circle class="m" cy="320" r="44"/></g>
<g id="n142_2" class="w"><circle class="sh" cx="3" cy="444" r="46"/><circle class="m" cy="440" r="44"/></g>
<g id="n142_3" class="w"><circle class="sh" cx="3" cy="564" r="46"/><circle class="m" cy="560" r="44"/></g>
<g id="n142_4" class="w"><circle class="sh" cx="3" cy="684" r="46"/><circle class="m" cy="680" r="44"/></g>
<g id="n142_5" class="o"><circle class="sh" cx="3" cy="804" r="46"/><circle class="m" cy="800" r="44"/></g>
<g id="n142_6" class="w"><circle class="sh" cx="3" cy="924" r="46"/><circle class="m" cy="920" r="44"/></g>
<g id="n142_7" class="w"><circle class="sh" cx="3" cy="1044" r="46"/><circle class="m" cy="1040" r="44"/></g>
<g id="n142_8" class="o"><circle class="sh" cx="3" cy="1164" r="46"/><circle class="m" cy="1160" r="44"/></g>
<g id="n142_9" class="o"><circle class="sh" cx="3" cy="1284" r="46"/><circle class="m" cy="1280" r="44"/></g>
<g id="n142_10" class="r"><circle class="sh" cx="3" cy="1404" r="46"/><circle class="m" cy="1400" r="44"/><text class="num" y="1427">1</text></g>
</g>

<g id="col143" transform="translate(4400,0)">
<text class="lbl" y="34">143</text>
<g id="n143" class="box"><rect x="-80" y="40" width="160" height="80"/><text class="bt" x="0" y="84">carts,orders,</text></g>
<g id="n143_0" class="w"><circle class="sh" cx="3" cy="204" r="46"/><circle class="m" cy="200" r="44"/></g>
<g id="n143_1" class="w"><circle class="sh" cx="3" cy="324" r="46"/><circle class="m" cy="320" r="44"/></g>
<g id="n143_2" class="w"><circle class="sh" cx="3" cy="444" r="46"/><circle class="m" cy="440" r="44"/></g>
<g id="n143_3" class="w"><circle class="sh" cx="3" cy="564" r="46"/><circle class="m" cy="560" r="44"/></g>
<g id="n143_4" class="w"><circle class="sh" cx="3" cy="684" r="46"/><circle class="m" cy="680" r="44"/></g>
<g id="n143_5" class="o"><circle class="sh" cx="3" cy="804" r="46"/><circle class="m" cy="800" r="44"/></g>
<g id="n143_6" class="w"><circle class="sh" cx="3" cy="924" r="46"/><circle class="m" cy="920" r="44"/></g>
<g id="n143_7" class="w"><circle class="sh" cx="3" cy="1044" r="46"/><circle class="m" cy="1040" r="44"/></g>
<g id="n143_8" class="o"><circle class="sh" cx="3" cy="1164" r="46"/><circle class="m" cy="1160" r="44"/></g>
<g id="n143_9" class="o"><circle class="sh" cx="3" cy="1284" r="46"/><circle class="m" cy="1280" r="44"/></g>
<g id="n143_10" class="r"><circle class="sh" cx="3" cy="1404" r="46"/><circle class="m" cy="1400" r="44"/><text class="num" y="1427">1</text></g>
</g>

<g id="col144" transform="translate(4624,0)">
<text class="lbl" y="34">144</text>
<g id="n144" class="box"><rect x="-80" y="40" width="160" height="80"/><text class="bt" x="0" y="84">payment,user,catalogue,</text></g>
<g id="n144_0" class="g"><circle class="sh" cx="3" cy="204" r="46"/><circle class="m" cy="200" r="44"/><text class="num" y="227">2</text></g>
<g id="n144_1" class="w"><circle class="sh" cx="3" cy="324" r="46"/><circle class="m" cy="320" r="44"/></g>
<g id="n144_2" class="g"><circle class="sh" cx="3" cy="444" r="46"/><circle class="m" cy="440" r="44"/><text class="num" y="467">1</text></g>
<g id="n144_3" class="w"><circle class="sh" cx="3" cy="564" r="46"/><circle class="m" cy="560" r="44"/></g>
<g id="n144_4" class="w"><circle class="sh" cx="3" cy="684" r="46"/><circle class="m" cy="680" r="44"/></g>
<g id="n144_5" class="p"><circle class="sh" cx="3" cy="804" r="46"/><circle class="m" cy="800" r="44"/></g>
<g id="n144_6" class="w"><circle class="sh" cx="3" cy="924" r="46"/><circle class="m" cy="920" r="44"/></g>
<g id="n144_7" class="w"><circle class="sh" cx="3" cy="1044" r="46"/><circle class="m" cy="1040" r="44"/></g>
<g id="n144_8" class="w"><circle class="sh" cx="3" cy="1164" r="46"/><circle class="m" cy="1160" r="44"/></g>
<g id="n144_9" class="w"><circle class="sh" cx="3" cy="1284" r="46"/><circle class="m" cy="1280" r="44"/></g>
<g id="n144_10" class="w"><circle class="sh" cx="3" cy="1404" r="46"/><circle class="m" cy="1400" r="44"/></g>
</g>

<g id="col145" transform="translate(4848,0)">
<text class="lbl" y="34">145</text>
<g id="n145" class="box"><rect x="-80" y="40" width="160" height="80"/><text class="bt" x="0" y="84">carts,user,</text></g>
<g id="n145_0" class="w"><circle class="sh" cx="3" cy="204" r="46"/><circle class="m" cy="200" r="44"/></g>
<g id="n145_1" class="w"><circle class="sh" cx="3" cy="324" r="46"/><circle class="m" cy="320" r="44"/></g>
<g id="n145_2" class="w"><circle class="sh" cx="3" cy="444" r="46"/><circle class="m" cy="440" r="44"/></g>
<g id="n145_3" class="w"><circle class="sh" cx="3" cy="564" r="46"/><circle class="m" cy="560" r="44"/></g>
<g id="n145_4" class="w"><circle class="sh" cx="3" cy="684" r="46"/><circle class="m" cy="680" r="44"/></g>
<g id="n145_5" class="o"><circle class="sh" cx="3" cy="804" r="46"/><circle class="m" cy="800" r="44"/></g>
<g id="n145_6" class="w"><circle class="sh" cx="3" cy="924" r="46"/><circle class="m" cy="920" r="44"/></g>
<g id="n145_7" class="w"><circle class="sh" cx="3" cy="1044" r="46"/><circle class="m" cy="1040" r="44"/></g>
<g id="n145_8" class="o"><circle class="sh" cx="3" cy="1164" r="46"/><circle class="m" cy="1160" r="44"/></g>
<g id="n145_9" class="o"><circle class="sh" cx="3" cy="1284" r="46"/><circle class="m" cy="1280" r="44"/></g>
<g id="n145_10" class="r"><circle class="sh" cx="3" cy="1404" r="46"/><circle class="m" cy="1400" r="44"/><text class="num" y="1427">1</text></g>
</g>

<g id="col146" transform="translate(5072,0)">
<text class="lbl" y="34">146</text>
<g id="n146" class="box"><rect x="-80" y="40" width="160" height="80"/><text class="bt" x="0" y="84">payment,orders,catalogue,</text></g>
<g id="n146_0" class="w"><circle class="sh" cx="3" cy="204" r="46"/><circle class="m" cy="200" r="44"/></g>
<g id="n146_1" class="w"><circle class="sh" cx="3" cy="324" r="46"/><circle class="m" cy="320" r="44"/></g>
<g id="n146_2" class="w"><circle class="sh" cx="3" cy="444" r="46"/><circle class="m" cy="440" r="44"/></g>
<g id="n146_3" class="w"><circle class="sh" cx="3" cy="564" r="46"/><circle class="m" cy="560" r="44"/></g>
<g id="n146_4" class="w"><circle class="sh" cx="3" cy="684" r="46"/><circle class="m" cy="680" r="44"/></g>
<g id="n146_5" class="o"><circle class="sh" cx="3" cy="804" r="46"/><circle class="m" cy="800" r="44"/></g>
<g id="n146_6" class="w"><circle class="sh" cx="3" cy="924" r="46"/><circle class="m" cy="920" r="44"/></g>
<g id="n146_7" class="w"><circle class="sh" cx="3" cy="1044" r="46"/><circle class="m" cy="1040" r="44"/></g>
<g id="n146_8" class="o"><circle class="sh" cx="3" cy="1164" r="46"/><circle class="m" cy="1160" r="44"/></g>
<g id="n146_9" class="o"><circle class="sh" cx="3" cy="1284" r="46"/><circle class="m" cy="1280" r="44"/></g>
<g id="n146_10" class="p"><circle class="sh" cx="3" cy="1404" r="46"/><circle class="m" cy="1400" r="44"/></g>
</g>

<g id="col147" transform="translate(5296,0)">
<text class="lbl" y="34">147</text>
<g id="n147" class="box"><rect x="-80" y="40" width="160" height="80"/><text class="bt" x="0" y="84">carts,catalogue,</text></g>
<g id="n147_0" class="w"><circle class="sh" cx="3" cy="204" r="46"/><circle class="m" cy="200" r="44"/></g>
<g id="n147_1" class="w"><circle class="sh" cx="3" cy="324" r="46"/><circle class="m" cy="320" r="44"/></g>
<g id="n147_2" class="w"><circle class="sh" cx="3" cy="444" r="46"/><circle class="m" cy="440" r="44"/></g>
<g id="n147_3" class="w"><circle class="sh" cx="3" cy="564" r="46"/><circle class="m" cy="560" r="44"/></g>
<g id="n147_4" class="w"><circle class="sh" cx="3" cy="684" r="46"/><circle class="m" cy="680" r="44"/></g>
<g id="n147_5" class="o"><circle class="sh" cx="3" cy="804" r="46"/><circle class="m" cy="800" r="44"/></g>
<g id="n147_6" class="w"><circle class="sh" cx="3" cy="924" r="46"/><circle class="m" cy="920" r="44"/></g>
<g id="n147_7" class="w"><circle class="sh" cx="3" cy="1044" r="46"/><circle class="m" cy="1040" r="44"/></g>
<g id="n147_8" class="o"><circle class="sh" cx="3" cy="1164" r="46"/><circle class="m" cy="1160" r="44"/></g>
<g id="n147_9" class="o"><circle class="sh" cx="3" cy="1284" r="46"/><circle class="m" cy="1280" r="44"/></g>
<g id="n147_10" class="r"><circle class="sh" cx="3" cy="1404" r="46"/><circle class="m" cy="1400" r="44"/><text class="num" y="1427">1</text></g>
</g>

<g id="col148" transform="translate(5520,0)">
<text class="lbl" y="34">148</text>
<g id="n148" class="box"><rect x="-80" y="40" width="160" height="80"/><text class="bt" x="0" y="84">payment,orders,user,</text></g>
<g id="n148_0" class="w"><circle class="sh" cx="3" cy="204" r="46"/><circle class="m" cy="200" r="44"/></g>
<g id="n148_1" class="w"><circle class="sh" cx="3" cy="324" r="46"/><circle class="m" cy="320" r="44"/></g>
<g id="n148_2" class="w"><circle class="sh" cx="3" cy="444" r="46"/><circle class="m" cy="440" r="44"/></g>
<g id="n148_3" class="w"><circle class="sh" cx="3" cy="564" r="46"/><circle class="m" cy="560" r="44"/></g>
<g id="n148_4" class="w"><circle class="sh" cx="3" cy="684" r="46"/><circle class="m" cy="680" r="44"/></g>
<g id="n148_5" class="o"><circle class="sh" cx="3" cy="804" r="46"/><circle class="m" cy="800" r="44"/></g>
<g id="n148_6" class="w"><circle class="sh" cx="3" cy="924" r="46"/><circle class="m" cy="920" r="44"/></g>
<g id="n148_7" class="w"><circle class="sh" cx="3" cy="1044" r="46"/><circle class="m" cy="1040" r="44"/></g>
<g id="n148_8" class="o"><circle class="sh" cx="3" cy="1164" r="46"/><circle class="m" cy="1160" r="44"/></g>
<g id="n148_9" class="o"><circle class="sh" cx="3" cy="1284" r="46"/><circle class="m" cy="1280" r="44"/></g>
<g id="n148_10" class="r"><circle class="sh" cx="3" cy="1404" r="46"/><circle class="m" cy="1400" r="44"/><text class="num" y="1427">1</text></g>
</g>

<g id="col149" transform="translate(5744,0)">
<text class="lbl" y="34">149</text>
<g id="n149" class="box"><rect x="-80" y="40" width="160" height="80"/><text class="bt" x="0" y="84">orders,user,</text></g>
<g id="n149_0" class="w"><circle class="sh" cx="3" cy="204" r="46"/><circle class="m" cy="200" r="44"/></g>
<g id="n149_1" class="w"><circle class="sh" cx="3" cy="324" r="46"/><circle class="m" cy="320" r="44"/></g>
<g id="n149_2" class="w"><circle class="sh" cx="3" cy="444" r="46"/><circle class="m" cy="440" r="44"/></g>
<g id="n149_3" class="w"><circle class="sh" cx="3" cy="564" r="46"/><circle class="m" cy="560" r="44"/></g>
<g id="n149_4" class="w"><circle class="sh" cx="3" cy="684" r="46"/><circle class="m" cy="680" r="44"/></g>
<g id="n149_5" class="o"><circle class="sh" cx="3" cy="804" r="46"/><circle class="m" cy="800" r="44"/></g>
<g id="n149_6" class="w"><circle class="sh" cx="3" cy="924" r="46"/><circle class="m" cy="920" r="44"/></g>
<g id="n149_7" class="w"><circle class="sh" cx="3" cy="1044" r="46"/><circle class="m" cy="1040" r="44"/></g>
<g id="n149_8" class="r"><circle class="sh" cx="3" cy="1164" r="46"/><circle class="m" cy="1160" r="44"/><text class="num" y="1187">1</text></g>
<g id="n149_9" class="g"><circle class="sh" cx="3" cy="1284" r="46"/><circle class="m" cy="1280" r="44"/><text class="num" y="1307">2</text></g>
<g id="n149_10" class="w"><circle class="sh" cx="3" cy="1404" r="46"/><circle class="m" cy="1400" r="44"/></g>
</g>

<g id="col150" transform="translate(5968,0)">
<text class="lbl" y="34">150</text>
<g id="n150" class="box"><rect x="-80" y="40" width="160" height="80"/><text class="bt" x="0" y="84">payment,carts,catalogue,</text></g>
<g id="n150_0" class="w"><circle class="sh" cx="3" cy="204" r="46"/><circle class="m" cy="200" r="44"/></g>
<g id="n150_1" class="w"><circle class="sh" cx="3" cy="324" r="46"/><circle class="m" cy="320" r="44"/></g>
<g id="n150_2" class="w"><circle class="sh" cx="3" cy="444" r="46"/><circle class="m" cy="440" r="44"/></g>
<g id="n150_3" class="w"><circle class="sh" cx="3" cy="564" r="46"/><circle class="m" cy="560" r="44"/></g>
<g id="n150_4" class="w"><circle class="sh" cx="3" cy="684" r="46"/><circle class="m" cy="680" r="44"/></g>
<g id="n150_5" class="o"><circle class="sh" cx="3" cy="804" r="46"/><circle class="m" cy="800" r="44"/></g>
<g id="n150_6" class="w"><circle class="sh" cx="3" cy="924" r="46"/><circle class="m" cy="920" r="44"/></g>
<g id="n150_7" class="w"><circle class="sh" cx="3" cy="1044" r="46"/><circle class="m" cy="1040" r="44"/></g>
<g id="n150_8" class="o"><circle class="sh" cx="3" cy="1164" r="46"/><circle class="m" cy="1160" r="44"/></g>
<g id="n150_9" class="o"><circle class="sh" cx="3" cy="1284" r="46"/><circle class="m" cy="1280" r="44"/></g>
<g id="n150_10" class="o"><circle class="sh" cx="3" cy="1404" r="46"/><circle class="m" cy="1400" r="44"/></g>
</g>

<g id="col151" transform="translate(6192,0)">
<text class="lbl" y="34">151</text>
<g id="n151" class="box"><rect x="-80" y="40" width="160" height="80"/><text class="bt" x="0" y="84">orders,catalogue,</text></g>
<g id="n151_0" class="w"><circle class="sh" cx="3" cy="204" r="46"/><circle class="m" cy="200" r="44"/></g>
<g id="n151_1" class="w"><circle class="sh" cx="3" cy="324" r="46"/><circle class="m" cy="320" r="44"/></g>
<g id="n151_2" class="w"><circle class="sh" cx="3" cy="444" r="46"/><circle class="m" cy="440" r="44"/></g>
<g id="n151_3" class="w"><circle class="sh" cx="3" cy="564" r="46"/><circle class="m" cy="560" r="44"/></g>
<g id="n151_4" class="w"><circle class="sh" cx="3" cy="684" r="46"/><circle class="m" cy="680" r="44"/></g>
<g id="n151_5" class="o"><circle class="sh" cx="3" cy="804" r="46"/><circle class="m" cy="800" r="44"/></g>
<g id="n151_6" class="w"><circle class="sh" cx="3" cy="924" r="46"/><circle class="m" cy="920" r="44"/></g>
<g id="n151_7" class="w"><circle class="sh" cx="3" cy="1044" r="46"/><circle class="m" cy="1040" r="44"/></g>
<g id="n151_8" class="r"><circle class="sh" cx="3" cy="1164" r="46"/><circle class="m" cy="1160" r="44"/><text class="num" y="1187">1</text></g>
<g id="n151_9" class="r"><circle class="sh" cx="3" cy="1284" r="46"/><circle class="m" cy="1280" r="44"/><text class="num" y="1307">2</text></g>
<g id="n151_10" class="p"><circle class="sh" cx="3" cy="1404" r="46"/><circle class="m" cy="1400" r="44"/></g>
</g>

<g id="col152" transform="translate(6416,0)">
<text class="lbl" y="34">152</text>
<g id="n152" class="box"><rect x="-80" y="40" width="160" height="80"/><text class="bt" x="0" y="84">payment,carts,user,</text></g>
<g id="n152_0" class="w"><circle class="sh" cx="3" cy="204" r="46"/><circle class="m" cy="200" r="44"/></g>
<g id="n152_1" class="w"><circle class="sh" cx="3" cy="324" r="46"/><circle class="m" cy="320" r="44"/></g>
<g id="n152_2" class="w"><circle class="sh" cx="3" cy="444" r="46"/><circle class="m" cy="440" r="44"/></g>
<g id="n152_3" class="w"><circle class="sh" cx="3" cy="564" r="46"/><circle class="m" cy="560" r="44"/></g>
<g id="n152_4" class="w"><circle class="sh" cx="3" cy="684" r="46"/><circle class="m" cy="680" r="44"/></g>
<g id="n152_5" class="o"><circle class="sh" cx="3" cy="804" r="46"/><circle class="m" cy="800" r="44"/></g>
<g id="n152_6" class="w"><circle class="sh" cx="3" cy="924" r="46"/><circle class="m" cy="920" r="44"/></g>
<g id="n152_7" class="w"><circle class="sh" cx="3" cy="1044" r="46"/><circle class="m" cy="1040" r="44"/></g>
<g id="n152_8" class="o"><circle class="sh" cx="3" cy="1164" r="46"/><circle class="m" cy="1160" r="44"/></g>
<g id="n152_9" class="o"><circle class="sh" cx="3" cy="1284" r="46"/><circle class="m" cy="1280" r="44"/></g>
<g id="n152_10" class="o"><circle class="sh" cx="3" cy="1404" r="46"/><circle class="m" cy="1400" r="44"/></g>
</g>

<g id="col153" transform="translate(6640,0)">
<text class="lbl" y="34">153</text>
<g id="n153" class="box"><rect x="-80" y="40" width="160" height="80"/><text class="bt" x="0" y="84">user,catalogue,</text></g>
<g id="n153_0" class="p"><circle class="sh" cx="3" cy="204" r="46"/><circle class="m" cy="200" r="44"/></g>
<g id="n153_1" class="w"><circle class="sh" cx="3" cy="324" r="46"/><circle class="m" cy="320" r="44"/></g>
<g id="n153_2" class="p"><circle class="sh" cx="3" cy="444" r="46"/><circle class="m" cy="440" r="44"/></g>
<g id="n153_3" class="w"><circle class="sh" cx="3" cy="564" r="46"/><circle class="m" cy="560" r="44"/></g>
<g id="n153_4" class="w"><circle class="sh" cx="3" cy="684" r="46"/><circle class="m" cy="680" r="44"/></g>
<g id="n153_5" class="p"><circle class="sh" cx="3" cy="804" r="46"/><circle class="m" cy="800" r="44"/></g>
<g id="n153_6" class="w"><circle class="sh" cx="3" cy="924" r="46"/><circle class="m" cy="920" r="44"/></g>
<g id="n153_7" class="w"><circle class="sh" cx="3" cy="1044" r="46"/><circle class="m" cy="1040" r="44"/></g>
<g id="n153_8" class="w"><circle class="sh" cx="3" cy="1164" r="46"/><circle class="m" cy="1160" r="44"/></g>
<g id="n153_9" class="w"><circle class="sh" cx="3" cy="1284" r="46"/><circle class="m" cy="1280" r="44"/></g>
<g id="n153_10" class="w"><circle class="sh" cx="3" cy="1404" r="46"/><circle class="m" cy="1400" r="44"/></g>
</g>

<g id="col154" transform="translate(6864,0)">
<text class="lbl" y="34">154</text>
<g id="n154" class="box"><rect x="-80" y="40" width="160" height="80"/><text class="bt" x="0" y="84">payment,carts,orders,</text></g>
<g id="n154_0" class="w"><circle class="sh" cx="3" cy="204" r="46"/><circle class="m" cy="200" r="44"/></g>
<g id="n154_1" class="w"><circle class="sh" cx="3" cy="324" r="46"/><circle class="m" cy="320" r="44"/></g>
<g id="n154_2" class="w"><circle class="sh" cx="3" cy="444" r="46"/><circle class="m" cy="440" r="44"/></g>
<g id="n154_3" class="w"><circle class="sh" cx="3" cy="564" r="46"/><circle class="m" cy="560" r="44"/></g>
<g id="n154_4" class="w"><circle class="sh" cx="3" cy="684" r="46"/><circle class="m" cy="680" r="44"/></g>
<g id="n154_5" class="o"><circle class="sh" cx="3" cy="804" r="46"/><circle class="m" cy="800" r="44"/></g>
<g id="n154_6" class="w"><circle class="sh" cx="3" cy="924" r="46"/><circle class="m" cy="920" r="44"/></g>
<g id="n154_7" class="w"><circle class="sh" cx="3" cy="1044" r="46"/><circle class="m" cy="1040" r="44"/></g>
<g id="n154_8" class="o"><circle class="sh" cx="3" cy="1164" r="46"/><circle class="m" cy="1160" r="44"/></g>
<g id="n154_9" class="o"><circle class="sh" cx="3" cy="1284" r="46"/><circle class="m" cy="1280" r="44"/></g>
<g id="n154_10" class="o"><circle class="sh" cx="3" cy="1404" r="46"/><circle class="m" cy="1400" r="44"/></g>
</g>
</svg>
